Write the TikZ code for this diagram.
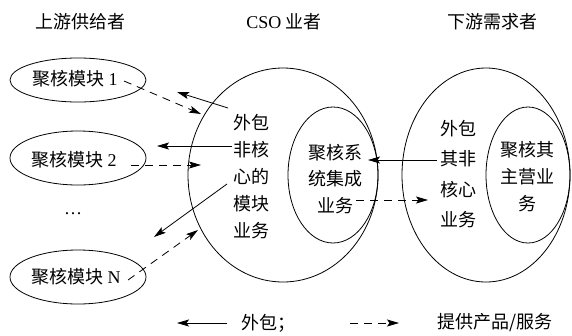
\documentclass[tikz,border=0pt]{standalone}
\usepackage{fontspec}
\setmainfont{Liberation Serif}
\newfontfamily\cjk{Noto Sans CJK SC}
\usetikzlibrary{shapes.geometric,arrows.meta}
\begin{document}
\begin{tikzpicture}[x=1pt,y=-1pt,
  lbl/.style={font=\fontsize{18}{27}\selectfont\cjk, inner sep=0pt, align=center},
  oval/.style={draw, ellipse, line width=0.8pt, inner sep=0pt},
  outs/.style={-{Stealth[length=12pt,width=7pt,inset=2.5pt]}, line width=0.8pt},
  prov/.style={outs, dash pattern=on 8pt off 6pt},
]
\useasboundingbox (0,0) rectangle (572,335);
% titles
\node[lbl] (h1) at (80,22) {上游供给者};
\node[lbl] (h2) at (284,22) {{\rmfamily CSO} 业者};
\node[lbl] (h3) at (492,22) {下游需求者};
% supplier ovals
\node[oval, minimum width=136pt, minimum height=44pt] (m1) at (78,80) {};
\node[lbl] (t1) at (75,79) {聚核模块 {\rmfamily 1}};
\node[oval, minimum width=136pt, minimum height=54pt] (m2) at (78,158) {};
\node[lbl] (t2) at (74,160) {聚核模块 {\rmfamily 2}};
\node[lbl] (dots) at (73,214) {\rmfamily\dots};
\node[oval, minimum width=136pt, minimum height=54pt] (mn) at (78,277) {};
\node[lbl] (tn) at (76,277) {聚核模块 {\rmfamily N}};
% CSO
\node[oval, minimum width=190pt, minimum height=214pt] (cso) at (283,175) {};
\node[oval, minimum width=90pt, minimum height=136pt] (csoin) at (333,175) {};
\node[lbl] (cso text) at (251,177) {外包\\非核\\心的\\模块\\业务};
\node[lbl, font=\fontsize{18}{26.5}\selectfont\cjk] (csoin text) at (335,179) {聚核系\\统集成\\业务};
% downstream
\node[oval, minimum width=168pt, minimum height=214pt] (dn) at (486,175) {};
\node[oval, minimum width=84pt, minimum height=136pt] (dnin) at (528,175) {};
\node[lbl, font=\fontsize{18}{30.5}\selectfont\cjk] (dn text) at (458,174) {外包\\其非\\核心\\业务};
\node[lbl] (dnin text) at (527,177) {聚核其\\主营业\\务};
% arrow end points
\coordinate (a1s) at (228,108); \coordinate (a1e) at (177,92);
\coordinate (b1s) at (124,81);  \coordinate (b1e) at (201,114);
\coordinate (a2s) at (232,146); \coordinate (a2e) at (157,146);
\coordinate (b2s) at (131,165); \coordinate (b2e) at (201,165);
\coordinate (a3s) at (227,184); \coordinate (a3e) at (154,237);
\coordinate (b3s) at (128,280); \coordinate (b3e) at (198,230);
\coordinate (a4s) at (437,160); \coordinate (a4e) at (368,160);
\coordinate (b4s) at (356,200); \coordinate (b4e) at (428,200);
\draw[outs] (a1s) -- (a1e);
\draw[prov] (b1s) -- (b1e);
\draw[outs] (a2s) -- (a2e);
\draw[prov] (b2s) -- (b2e);
\draw[outs] (a3s) -- (a3e);
\draw[prov] (b3s) -- (b3e);
\draw[outs] (a4s) -- (a4e);
\draw[prov] (b4s) -- (b4e);
% legend
\coordinate (l1s) at (227,323); \coordinate (l1e) at (177,323);
\coordinate (l2s) at (350,323); \coordinate (l2e) at (399,323);
\draw[outs] (l1s) -- (l1e);
\node[lbl] (lt1) at (268,323) {外包；};
\draw[prov] (l2s) -- (l2e);
\node[lbl] (lt2) at (495,323) {提供产品/服务};
\end{tikzpicture}
\end{document}
